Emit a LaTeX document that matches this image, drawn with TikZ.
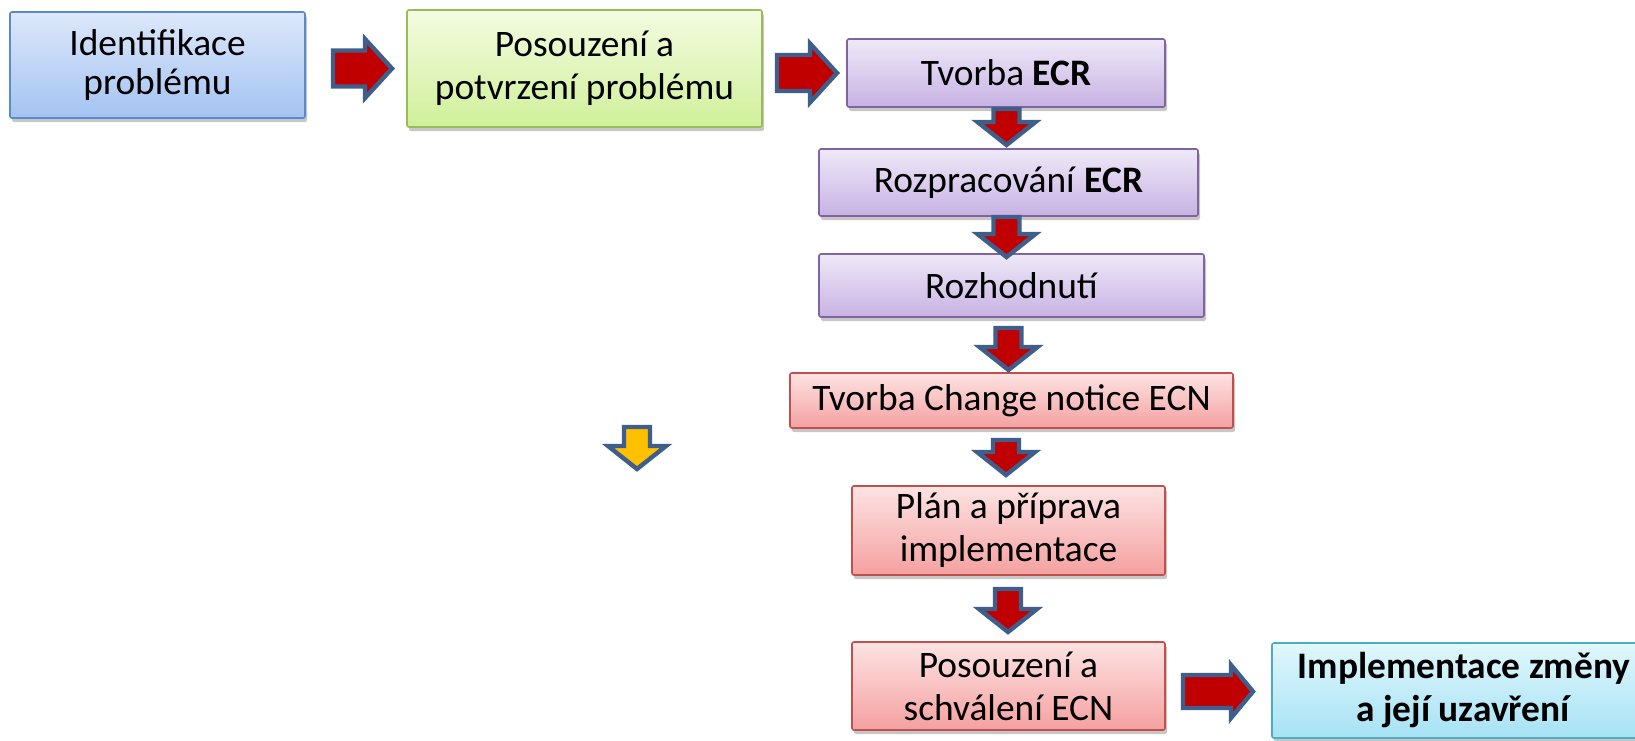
\documentclass[tikz,border=0pt]{standalone}
\usepackage{fontspec}
\setmainfont{Carlito}
\usetikzlibrary{shadows}
\newdimen\pxu \pxu=0.5pt
\definecolor{bTop}{HTML}{DDE8FA}\definecolor{bBot}{HTML}{A4C3F2}\definecolor{bLine}{HTML}{5A8ACB}
\definecolor{gTop}{HTML}{F3FBE0}\definecolor{gBot}{HTML}{D0F09A}\definecolor{gLine}{HTML}{9BBB59}
\definecolor{pTop}{HTML}{EFE9F8}\definecolor{pBot}{HTML}{C7B2E3}\definecolor{pLine}{HTML}{8064A2}
\definecolor{rTop}{HTML}{FDE3E3}\definecolor{rBot}{HTML}{F5A0A0}\definecolor{rLine}{HTML}{C0504D}
\definecolor{cTop}{HTML}{E0F7FD}\definecolor{cBot}{HTML}{A6E2F4}\definecolor{cLine}{HTML}{4BACC6}
\definecolor{arrRed}{HTML}{C00000}\definecolor{arrYel}{HTML}{FFC000}\definecolor{arrLine}{HTML}{3E5F8B}
\tikzset{
  box/.style={rectangle, rounded corners=1pt, inner sep=0pt, line width=0.8pt, align=center,
    font=\fontsize{18.7}{21.5}\selectfont,
    drop shadow={shadow xshift=1pt, shadow yshift=-2pt, opacity=0.22, fill=black}},
  bluebox/.style={box, draw=bLine, top color=bTop, bottom color=bBot, font=\fontsize{18.7}{19.5}\selectfont},
  greenbox/.style={box, draw=gLine, top color=gTop, bottom color=gBot},
  purplebox/.style={box, draw=pLine, top color=pTop, bottom color=pBot},
  redbox/.style={box, draw=rLine, top color=rTop, bottom color=rBot},
  cyanbox/.style={box, draw=cLine, top color=cTop, bottom color=cBot},
  arrowline/.style={draw=arrLine, line width=2.2pt, line join=miter}
}
% vertical block arrow: #1 centre x, #2 top y, #3 tip y, #4 fill  (outer extents, px)
\newcommand{\blkdown}[4]{%
  \draw[arrowline, fill=#4] ({#1-13},{#2+2}) -- ({#1+13},{#2+2}) -- ({#1+13},{#3-26}) -- ({#1+29},{#3-26})
    -- (#1,{#3-3}) -- ({#1-29},{#3-26}) -- ({#1-13},{#3-26}) -- cycle;}
% horizontal block arrow: #1 left x, #2 tip x, #3 centre y, #4 head length, #5 half shaft, #6 half head
\newcommand{\blkright}[6]{%
  \draw[arrowline, fill=arrRed] ({#1+2},{#3-#5+2}) -- ({#2-#4},{#3-#5+2}) -- ({#2-#4},{#3-#6+2})
    -- ({#2-3},#3) -- ({#2-#4},{#3+#6-2}) -- ({#2-#4},{#3+#5-2}) -- ({#1+2},{#3+#5-2}) -- cycle;}
\begin{document}
\begin{tikzpicture}[x=0.5pt, y=-0.5pt]
\useasboundingbox (0,0) rectangle (1635,740);
\clip (0,0) rectangle (1635,740);
\node[bluebox, minimum width=295\pxu, minimum height=106\pxu] (b1) at (157.5,65) {Identifikace\\problému};
\node[greenbox, minimum width=355\pxu, minimum height=117\pxu] (b2) at (584.5,68.5) {Posouzení a\\potvrzení problému};
\node[purplebox, minimum width=318\pxu, minimum height=68\pxu] (b3) at (1006,73) {Tvorba \textbf{ECR}};
\node[purplebox, minimum width=379\pxu, minimum height=67\pxu] (b4) at (1008.5,182.5) {Rozpracování \textbf{ECR}};
\node[purplebox, minimum width=385\pxu, minimum height=63\pxu] (b5) at (1011.5,285.5) {Rozhodnutí};
\node[redbox, minimum width=443\pxu, minimum height=55\pxu] (b6) at (1011.5,400.5) {Tvorba Change notice ECN};
\node[redbox, minimum width=313\pxu, minimum height=89\pxu] (b7) at (1008.5,530.5) {Plán a příprava\\implementace};
\node[redbox, minimum width=313\pxu, minimum height=88\pxu] (b8) at (1008.5,686) {Posouzení a\\schválení ECN};
\node[cyanbox, minimum width=384\pxu, minimum height=95\pxu] (b9) at (1464,690.5) {\textbf{Implementace změny}\\\textbf{a její uzavření}};
% horizontal arrows
\blkright{331}{395}{68.5}{30}{20}{31.5}
\blkright{775}{840}{73}{30}{20}{31.5}
\blkright{1181}{1256}{691.5}{25}{18.5}{28.5}
% vertical arrows
\blkdown{1006.5}{107}{148}{arrRed}
\blkdown{1006.5}{215}{260}{arrRed}
\blkdown{1008.5}{326}{373}{arrRed}
\blkdown{1006}{438}{478}{arrRed}
\blkdown{1008}{587}{635}{arrRed}
\blkdown{637}{425}{472}{arrYel}
\end{tikzpicture}
\end{document}
